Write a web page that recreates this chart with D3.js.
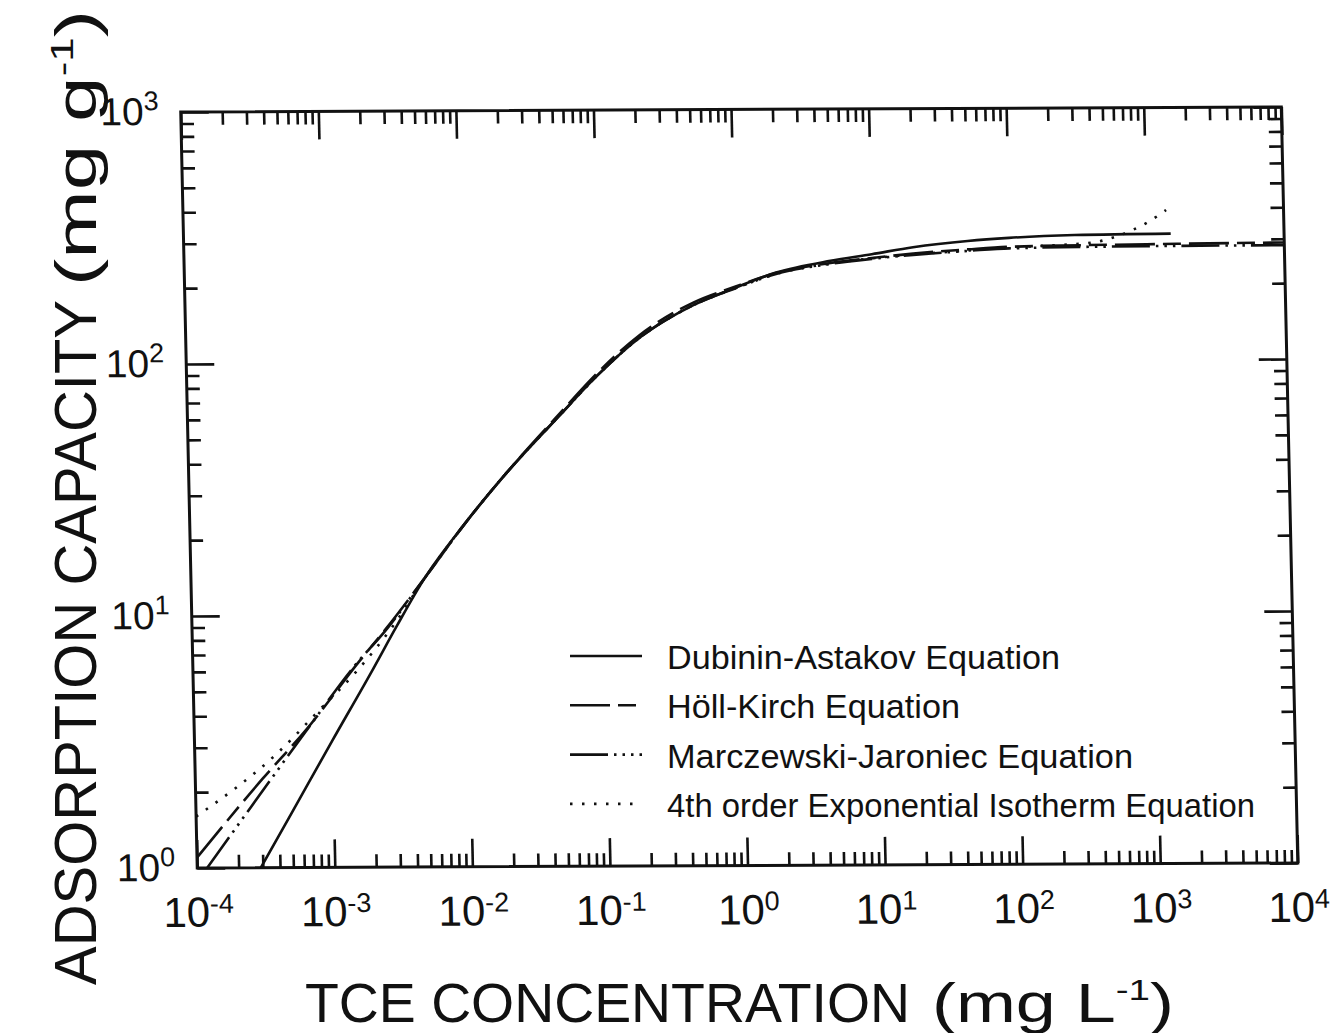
<!DOCTYPE html>
<html>
<head>
<meta charset="utf-8">
<script src="https://cdn.jsdelivr.net/npm/d3@7"></script>
<style>
  body { margin: 0; background: #fff; }
</style>
</head>
<body>
<div id="chart"></div>
<script>
// axis ranges and tick exponents
const xDomain = [1e-4, 1e4];
const yDomain = [1, 1e3];
const xTickExps = [-4, -3, -2, -1, 0, 1, 2, 3, 4];
const yTickExps = [0, 1, 2, 3];

// series (x in mg/L, y in mg/g)
const seriesNames = [
    "Dubinin-Astakov Equation",
    "Höll-Kirch Equation",
    "Marczewski-Jaroniec Equation",
    "4th order Exponential Isotherm Equation"
];

const daX = [2.9e-4, 5e-4, 1e-3, 2e-3, 3.1e-3, 5e-3, 1e-2, 2e-2, 5e-2, 1e-1, 2e-1, 5e-1, 1, 2, 5, 10, 20, 50, 100, 300, 1500];
const daY = [1.0, 1.66, 3.17, 6.0, 9.1, 14, 23, 36, 61, 90, 125, 168, 196, 225, 250, 265, 282, 298, 306, 313, 316];

const hkX = [1e-4, 3.1e-4, 6.6e-4, 1.6e-3, 2.6e-3, 5e-3, 1e-2, 2e-2, 5e-2, 1e-1, 2e-1, 5e-1, 1, 2, 5, 10, 20, 50, 100, 1000, 1e4];
const hkY = [1.1, 2.26, 3.55, 6.5, 8.9, 14, 23, 36, 62, 92, 128, 172, 198, 224, 245, 256, 266, 276, 282, 287, 290];

const mjX = [1.18e-4, 2.47e-4, 6.3e-4, 1.5e-3, 2.6e-3, 5e-3, 1e-2, 2e-2, 5e-2, 1e-1, 2e-1, 5e-1, 1, 2, 5, 10, 20, 50, 100, 1000, 1e4];
const mjY = [1.0, 1.72, 3.4, 6.3, 8.8, 14, 23, 36, 61, 90, 125, 168, 195, 222, 243, 254, 263, 272, 278, 282, 283];

const exX = [1e-4, 4e-4, 8.5e-4, 1.55e-3, 3e-3, 5e-3, 1e-2, 2e-2, 5e-2, 1e-1, 2e-1, 5e-1, 1, 2, 5, 10, 20, 50, 100, 200, 400, 600, 800, 1000, 1200, 1400];
const exY = [1.6, 2.85, 4.3, 6.0, 9.3, 14, 23, 36, 61, 90, 125, 168, 195, 222, 244, 255, 264, 273, 280, 285, 292, 308, 328, 348, 370, 392];

const W = 1100;
const H = 756;
const ink = "#111";
const font = "'Liberation Sans', Arial, Helvetica, sans-serif";

const svg = d3.select("#chart")
    .append("svg")
    .attr("width", 1334)
    .attr("height", 1033)
    .style("background", "#fff")
    .attr("font-family", font);

// the scanned frame is slightly skewed
const plot = svg.append("g")
    .attr("transform", "matrix(1.0005,-0.004545,0.0218,1,180.75,112)");

const x = d3.scaleLog().domain(xDomain).range([0, W]);
const y = d3.scaleLog().domain(yDomain).range([H, 0]);

const xMajor = xTickExps.map(e => Math.pow(10, e));
const yMajor = yTickExps.map(e => Math.pow(10, e));
const xMinor = [];
const yMinor = [];
xTickExps.slice(0, -1).forEach(e => { for (let k = 2; k < 10; k++) xMinor.push(k * Math.pow(10, e)); });
yTickExps.slice(0, -1).forEach(e => { for (let k = 2; k < 10; k++) yMinor.push(k * Math.pow(10, e)); });

function styleAxis(g, fontSize) {
    g.select(".domain").remove();
    g.attr("font-size", fontSize).attr("font-family", font).attr("color", ink);
    g.selectAll(".tick line").attr("stroke-width", 2.6);
}

function powerLabel(g, exps, supDy) {
    g.selectAll(".tick text").each(function(d, i) {
        const t = d3.select(this);
        t.text(null).attr("fill", ink);
        t.append("tspan").text("10");
        t.append("tspan").attr("font-size", 27).attr("dy", supDy).text(exps[i]);
    });
}

// bottom
const gb = plot.append("g").attr("transform", `translate(0,${H})`)
    .call(d3.axisBottom(x).tickValues(xMajor).tickSizeInner(-28).tickSizeOuter(0).tickPadding(29).tickFormat(""));
styleAxis(gb, 42);
powerLabel(gb, xTickExps, -14);
const gbm = plot.append("g").attr("transform", `translate(0,${H})`)
    .call(d3.axisBottom(x).tickValues(xMinor).tickSizeInner(-13).tickSizeOuter(0).tickFormat(""));
styleAxis(gbm, 10);

// top
const gt = plot.append("g")
    .call(d3.axisTop(x).tickValues(xMajor).tickSizeInner(-28).tickSizeOuter(0).tickFormat(""));
styleAxis(gt, 10);
const gtm = plot.append("g")
    .call(d3.axisTop(x).tickValues(xMinor).tickSizeInner(-13).tickSizeOuter(0).tickFormat(""));
styleAxis(gtm, 10);

// left
const gl = plot.append("g")
    .call(d3.axisLeft(y).tickValues(yMajor).tickSizeInner(-28).tickSizeOuter(0).tickPadding(22).tickFormat(""));
styleAxis(gl, 39);
powerLabel(gl, yTickExps, -15);
const glm = plot.append("g")
    .call(d3.axisLeft(y).tickValues(yMinor).tickSizeInner(-13).tickSizeOuter(0).tickFormat(""));
styleAxis(glm, 10);

// right
const gr = plot.append("g").attr("transform", `translate(${W},0)`)
    .call(d3.axisRight(y).tickValues(yMajor).tickSizeInner(-28).tickSizeOuter(0).tickFormat(""));
styleAxis(gr, 10);
const grm = plot.append("g").attr("transform", `translate(${W},0)`)
    .call(d3.axisRight(y).tickValues(yMinor).tickSizeInner(-13).tickSizeOuter(0).tickFormat(""));
styleAxis(grm, 10);

plot.append("rect")
    .attr("width", W)
    .attr("height", H)
    .attr("fill", "none")
    .attr("stroke", ink)
    .attr("stroke-width", 3);

plot.append("clipPath").attr("id", "clip")
    .append("rect").attr("width", W).attr("height", H);

const dashes = ["none", "40,8,18,8", "38,6,2.5,6,2.5,6,2.5,6", "2.5,9.5"];
const series = [
    {xs: daX, ys: daY},
    {xs: hkX, ys: hkY},
    {xs: mjX, ys: mjY},
    {xs: exX, ys: exY}
];

const line = d3.line()
    .x(d => x(d[0]))
    .y(d => y(d[1]))
    .curve(d3.curveMonotoneX);

const curves = plot.append("g").attr("clip-path", "url(#clip)");
series.forEach((s, i) => {
    curves.append("path")
        .datum(d3.zip(s.xs, s.ys))
        .attr("d", line)
        .attr("fill", "none")
        .attr("stroke", ink)
        .attr("stroke-width", 2.6)
        .attr("stroke-dasharray", dashes[i]);
});

// legend
const legendWidths = [393, 293, 466, 588];
const legend = svg.append("g").attr("transform", "translate(570,656)");
seriesNames.forEach((name, i) => {
    const row = legend.append("g").attr("transform", `translate(0,${i * 49.3})`);
    row.append("line")
        .attr("x1", 0).attr("x2", 72)
        .attr("y1", 0).attr("y2", 0)
        .attr("stroke", ink)
        .attr("stroke-width", 2.6)
        .attr("stroke-dasharray", dashes[i]);
    row.append("text")
        .attr("x", 97)
        .attr("y", 13)
        .attr("font-size", 34)
        .attr("fill", ink)
        .attr("textLength", legendWidths[i])
        .attr("lengthAdjust", "spacingAndGlyphs")
        .text(name);
});

// axis titles
svg.append("text")
    .attr("x", 305)
    .attr("y", 1022)
    .attr("font-size", 56)
    .attr("fill", ink)
    .attr("textLength", 605)
    .attr("lengthAdjust", "spacingAndGlyphs")
    .text("TCE CONCENTRATION");
const xu = svg.append("text")
    .attr("x", 932)
    .attr("y", 1022)
    .attr("font-size", 56)
    .attr("fill", ink)
    .attr("textLength", 242)
    .attr("lengthAdjust", "spacingAndGlyphs");
xu.append("tspan").text("(mg L");
xu.append("tspan").attr("font-size", 30).attr("dy", -22).text("-1");
xu.append("tspan").attr("dy", 22).text(")");

const yTitle = svg.append("g").attr("transform", "translate(96,0) rotate(-90)");
yTitle.append("text")
    .attr("x", -985)
    .attr("y", 0)
    .attr("font-size", 60)
    .attr("fill", ink)
    .attr("textLength", 685)
    .attr("lengthAdjust", "spacingAndGlyphs")
    .text("ADSORPTION CAPACITY");
const yu = yTitle.append("text")
    .attr("x", -286)
    .attr("y", 0)
    .attr("font-size", 58)
    .attr("fill", ink)
    .attr("textLength", 276)
    .attr("lengthAdjust", "spacingAndGlyphs");
yu.append("tspan").text("(mg g");
yu.append("tspan").attr("font-size", 31).attr("dy", -23).text("-1");
yu.append("tspan").attr("dy", 23).text(")");
</script>
</body>
</html>
